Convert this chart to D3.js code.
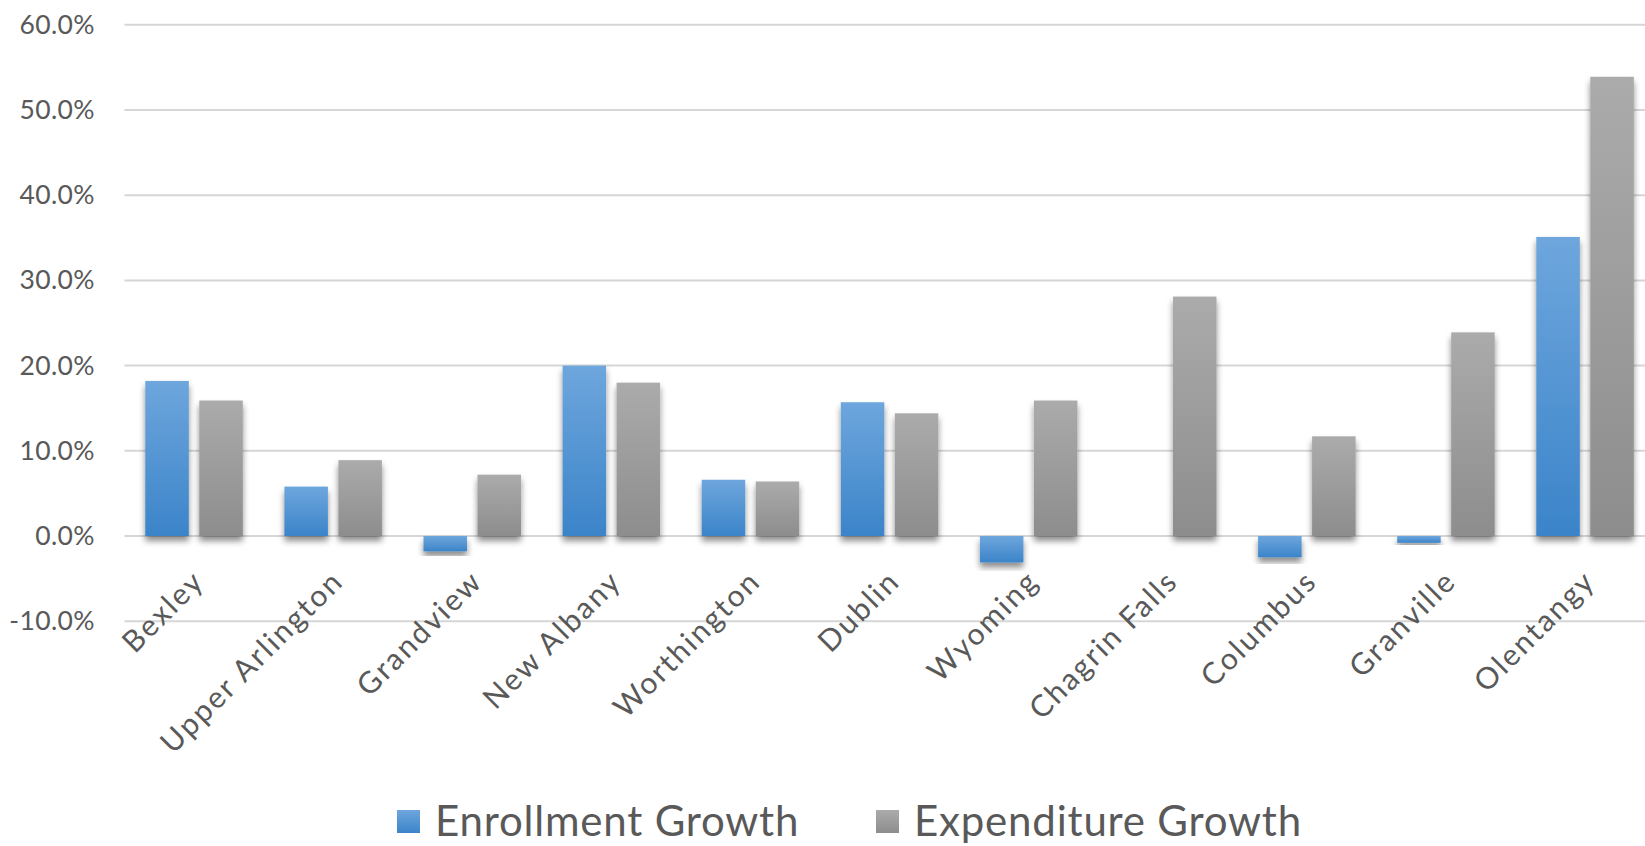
<!DOCTYPE html>
<html>
<head>
<meta charset="utf-8">
<script src="https://cdn.jsdelivr.net/npm/d3@7"></script>
<style>
  html, body { margin: 0; padding: 0; background: #ffffff; }
  svg { display: block; }
  text { font-family: Lato, "Open Sans", sans-serif; fill: #595959; }
</style>
</head>
<body>
<svg id="chart" width="1645" height="846"></svg>
<script>
// School districts, growth in enrollment vs. growth in expenditure
const districts = ["Bexley", "Upper Arlington", "Grandview", "New Albany", "Worthington",
                   "Dublin", "Wyoming", "Chagrin Falls", "Columbus", "Granville", "Olentangy"];
const enrollmentGrowth  = [0.182, 0.058, -0.018, 0.200, 0.066, 0.157, -0.031, 0.000, -0.025, -0.008, 0.351];
const expenditureGrowth = [0.159, 0.089, 0.072, 0.180, 0.064, 0.144, 0.159, 0.281, 0.117, 0.239, 0.539];
const seriesNames = ["Enrollment Growth", "Expenditure Growth"];
const yTicks = [-0.1, 0, 0.1, 0.2, 0.3, 0.4, 0.5, 0.6];

const rows = districts.map((d, i) => ({
  district: d,
  values: [enrollmentGrowth[i], expenditureGrowth[i]]
}));

const W = 1645, H = 846;
const svg = d3.select("#chart");

const plotLeft = 124.5, step = 139.1;
const x0 = d3.scaleBand().domain(districts)
  .range([plotLeft, plotLeft + step * districts.length])
  .paddingInner(0).paddingOuter(0);
const x1 = d3.scaleBand().domain(seriesNames)
  .range([0, x0.bandwidth()])
  .paddingInner(0.194).paddingOuter(0.385);
const y = d3.scaleLinear().domain([-0.1, 0.6]).range([621.2, 24.8]);

// gradients and shadow
const defs = svg.append("defs");
const grads = [
  { id: "gBlue", top: "#6ea6dd", bottom: "#3b84c9" },
  { id: "gGray", top: "#ababab", bottom: "#8d8d8d" }
];
grads.forEach(g => {
  const lg = defs.append("linearGradient").attr("id", g.id)
    .attr("x1", 0).attr("y1", 0).attr("x2", 0).attr("y2", 1);
  lg.append("stop").attr("offset", "0%").attr("stop-color", g.top);
  lg.append("stop").attr("offset", "100%").attr("stop-color", g.bottom);
});
const f = defs.append("filter").attr("id", "shadow")
  .attr("x", "-30%").attr("y", "-30%").attr("width", "160%").attr("height", "160%");
f.append("feDropShadow").attr("dx", 0).attr("dy", 5).attr("stdDeviation", 3)
  .attr("flood-color", "#000").attr("flood-opacity", 0.45);

// gridlines
svg.append("g").selectAll("line").data(yTicks).join("line")
  .attr("x1", plotLeft).attr("x2", W)
  .attr("y1", d => y(d)).attr("y2", d => y(d))
  .attr("stroke", "#d6d6d6").attr("stroke-width", 2);

// y axis labels (plain hyphen for negatives)
const pct = d3.format(".1%");
const yAxis = d3.axisLeft(y).tickValues(yTicks)
  .tickFormat(d => pct(d).replace("\u2212", "-")).tickSize(0).tickPadding(0);
const gy = svg.append("g").attr("transform", "translate(95,0)").call(yAxis);
gy.select(".domain").remove();
gy.selectAll("text").attr("font-size", 26.5).attr("fill", "#595959")
  .attr("letter-spacing", 0.4)
  .attr("font-family", "Lato, 'Open Sans', sans-serif");

// bars
const fills = ["url(#gBlue)", "url(#gGray)"];
const groups = svg.append("g").selectAll("g").data(rows).join("g")
  .attr("transform", d => `translate(${x0(d.district)},0)`);
groups.selectAll("rect").data(d => d.values.map((v, i) => ({ v, i })))
  .join("rect")
  .attr("x", d => x1(seriesNames[d.i]))
  .attr("width", x1.bandwidth())
  .attr("y", d => y(Math.max(0, d.v)))
  .attr("height", d => Math.abs(y(d.v) - y(0)))
  .attr("fill", d => fills[d.i])
  .attr("filter", "url(#shadow)");

// category labels, rotated
svg.append("g").selectAll("text").data(districts).join("text")
  .attr("transform", d => `translate(${x0(d) + x0.bandwidth() / 2 + 12},583) rotate(-45)`)
  .attr("text-anchor", "end")
  .attr("font-size", 30)
  .attr("letter-spacing", 2.2)
  .text(d => d);

// legend
const legend = [
  { name: seriesNames[0], fill: "url(#gBlue)", x: 397 },
  { name: seriesNames[1], fill: "url(#gGray)", x: 876 }
];
const lg = svg.append("g").selectAll("g").data(legend).join("g")
  .attr("transform", d => `translate(${d.x},0)`);
lg.append("rect").attr("x", 0).attr("y", 810).attr("width", 23).attr("height", 23)
  .attr("fill", d => d.fill);
lg.append("text").attr("x", 38).attr("y", 836).attr("font-size", 42)
  .attr("letter-spacing", 0.8).text(d => d.name);
</script>
</body>
</html>
